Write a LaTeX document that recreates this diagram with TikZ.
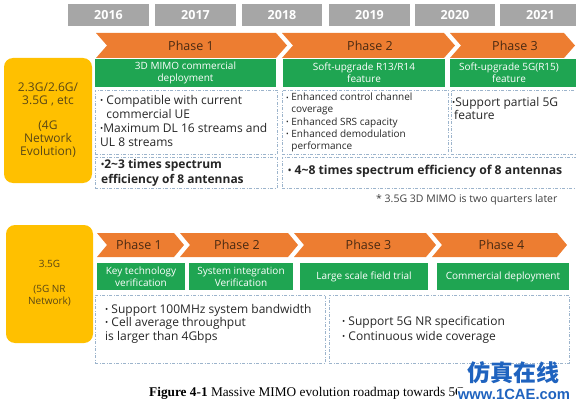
\documentclass[tikz,border=0pt]{standalone}
\usepackage{fontspec}
\setmainfont{Open Sans}
\newfontfamily\capfont{Liberation Serif}
\newfontfamily\wmfont{Liberation Sans}
\newfontfamily\cjkfont{Noto Sans CJK SC}
\definecolor{yearC}{HTML}{A6A6A6}
\definecolor{orangeC}{HTML}{ED7D31}
\definecolor{greenC}{HTML}{1FA552}
\definecolor{yellowC}{HTML}{FFC000}
\definecolor{dashC}{HTML}{9CB4CC}
\definecolor{brownT}{HTML}{4A2A12}
\definecolor{yellowT}{HTML}{5A4716}
\definecolor{bodyT}{HTML}{262626}
\definecolor{wmblue}{HTML}{1F63BF}
\newcommand\bul{\raisebox{0.1ex}{\scalebox{0.7}{•}}}
\newcommand\mychev[5]{\fill[orangeC] (#1,#3) -- (#2,#3) -- ({#2+#5},{(#3+#4)/2}) -- (#2,#4) -- (#1,#4) -- ({#1+#5},{(#3+#4)/2}) -- cycle;}
\tikzset{
  yearbox/.style={fill=yearC, text=white, font=\bfseries\fontsize{12.5}{14}\selectfont, minimum height=22pt, inner sep=0pt},
  gbox/.style={fill=greenC, text=white, font=\fontsize{10}{12}\selectfont, align=center, minimum height=28pt, inner sep=0pt},
  gtxt/.style={text=white, font=\fontsize{10}{12}\selectfont, align=center, inner sep=0pt},
  dbox/.style={draw=dashC, line width=0.7pt, dash pattern=on 3pt off 1.5pt on 1pt off 1.5pt, inner sep=0pt},
  ybox/.style={fill=yellowC, rounded corners=9pt, inner sep=0pt, text=yellowT, align=center},
  phtxt/.style={text=brownT, font=\fontsize{12.5}{14}\selectfont, inner sep=0pt},
  btxt/.style={align=left, anchor=west, inner sep=0pt, text=bodyT},
}
\begin{document}
\begin{tikzpicture}[x=1pt,y=-1pt]
\useasboundingbox (0,0) rectangle (576,404);
\clip (0,0) rectangle (576,404);
% years
\node[yearbox, minimum width=81pt] (y16) at (108.5,15) {2016};
\node[yearbox, minimum width=81pt] (y17) at (195.5,15) {2017};
\node[yearbox, minimum width=80pt] (y18) at (282,15) {2018};
\node[yearbox, minimum width=81pt] (y19) at (369.5,15) {2019};
\node[yearbox, minimum width=80pt] (y20) at (455,15) {2020};
\node[yearbox, minimum width=81pt] (y21) at (540.5,15) {2021};
% top phases
\mychev{96}{276}{33}{58}{11}
\mychev{282}{444}{33}{58}{11}
\mychev{450}{564}{33}{58}{11}
\node[phtxt] (tp1) at (191,45.5) {Phase 1};
\node[phtxt] (tp2) at (370,45.5) {Phase 2};
\node[phtxt] (tp3) at (515,45.5) {Phase 3};
% top left yellow
\node[ybox, minimum width=88pt, minimum height=125pt] (ya) at (48,120.5) {};
\node[text=yellowT, align=center, inner sep=0pt, font=\fontsize{12}{12.8}\selectfont] (yat) at (48,120) {2.3G/2.6G/\\3.5G , etc\\[12.8pt](4G\\Network\\Evolution)};
% top green
\node[gbox, minimum width=181pt] (g1) at (185.5,73) {3D MIMO commercial\\deployment};
\node[gbox, minimum width=162pt] (g2) at (364,73) {Soft-upgrade R13/R14\\feature};
\node[gbox, minimum width=130pt] (g3) at (515,73) {};
\node[gtxt] (g3t) at (509,73) {Soft-upgrade 5G(R15)\\feature};
% top dashed boxes
\node[dbox, minimum width=182pt, minimum height=64pt] (da) at (186,122) {};
\node[dbox, minimum width=166pt, minimum height=64pt] (db) at (365,122) {};
\node[dbox, minimum width=131pt, minimum height=64pt] (dc) at (516.5,122) {};
\node[dbox, minimum width=182pt, minimum height=31pt] (dd) at (186,172.5) {};
\node[dbox, minimum width=300pt, minimum height=31pt] (de) at (432,172.5) {};
\node[btxt, font=\fontsize{12}{14}\selectfont] (ta) at (100,121) {\bul\ Compatible with current\\\phantom{\bul\ }commercial UE\\\bul Maximum DL 16 streams and\\UL 8 streams};
\node[btxt, font=\fontsize{10}{12.2}\selectfont] (tb) at (286,122.5) {\bul\ Enhanced control channel\\\phantom{\bul\ }coverage\\\bul\ Enhanced SRS capacity\\\bul\ Enhanced demodulation\\\phantom{\bul\ }performance};
\node[btxt, font=\fontsize{12}{13.5}\selectfont] (tc) at (452,108.5) {\bul Support partial 5G\\\hspace{2pt}feature};
\node[btxt, font=\bfseries\fontsize{12}{15}\selectfont] (td) at (101,172.5) {\bul 2\textasciitilde 3 times spectrum\\efficiency of 8 antennas};
\node[btxt, font=\bfseries\fontsize{12.2}{15}\selectfont] (te) at (288,171) {\bul\ 4\textasciitilde 8 times spectrum efficiency of 8 antennas};
% note
\node[anchor=west, inner sep=0pt, text=black!75, font=\fontsize{10.5}{12}\selectfont] (note) at (376,200) {* 3.5G 3D MIMO is two quarters later};
% bottom yellow
\node[ybox, minimum width=87pt, minimum height=118pt] (yb) at (49.5,284) {};
\node[text=yellowT, align=center, inner sep=0pt, font=\fontsize{10}{12.3}\selectfont] (ybt) at (49.5,283.5) {3.5G\\[12.3pt](5G NR\\Network)};
% bottom phases
\mychev{97}{174}{233}{257}{10}
\mychev{180}{288}{233}{257}{10}
\mychev{294}{426}{233}{257}{10}
\mychev{432}{557}{233}{257}{10}
\node[phtxt] (bp1) at (139,245) {Phase 1};
\node[phtxt] (bp2) at (237,245) {Phase 2};
\node[phtxt] (bp3) at (368.5,245) {Phase 3};
\node[phtxt] (bp4) at (501.5,245) {Phase 4};
% bottom green
\node[gbox, minimum width=88pt, minimum height=27pt] (h1) at (141,276.5) {Key technology\\verification};
\node[gbox, minimum width=104pt, minimum height=27pt] (h2) at (241,276.5) {System integration\\Verification};
\node[gbox, minimum width=128pt, minimum height=27pt] (h3) at (364,276.5) {Large scale field trial};
\node[gbox, minimum width=132pt, minimum height=27pt] (h4) at (503,276.5) {Commercial deployment};
% bottom dashed
\node[dbox, minimum width=230pt, minimum height=68pt] (df) at (210,329) {};
\node[dbox, minimum width=240pt, minimum height=68pt] (dg) at (449,329) {};
\node[btxt, font=\fontsize{12}{13.5}\selectfont] (tf) at (105,323.5) {\bul\ Support 100MHz system bandwidth\\\bul\ Cell average throughput\\is larger than 4Gbps};
\node[btxt, font=\fontsize{12}{15}\selectfont] (tg) at (342,329.5) {\bul\ Support 5G NR specification\\\bul\ Continuous wide coverage};
% caption
\node[anchor=west, inner sep=0pt, font=\capfont\fontsize{13.3}{15}\selectfont] (cap) at (149,393) {\textbf{Figure 4-1} Massive MIMO evolution roadmap towards 5G};
% watermark
\node[inner sep=0pt, text=wmblue, font=\cjkfont\bfseries\fontsize{23}{24}\selectfont] (wm1) at (513,373) {仿真在线};
\node[fill=white, inner sep=1pt, text=wmblue, font=\wmfont\bfseries\fontsize{14.8}{16}\selectfont] (wm2) at (514,394) {www.1CAE.com};
\end{tikzpicture}
\end{document}
